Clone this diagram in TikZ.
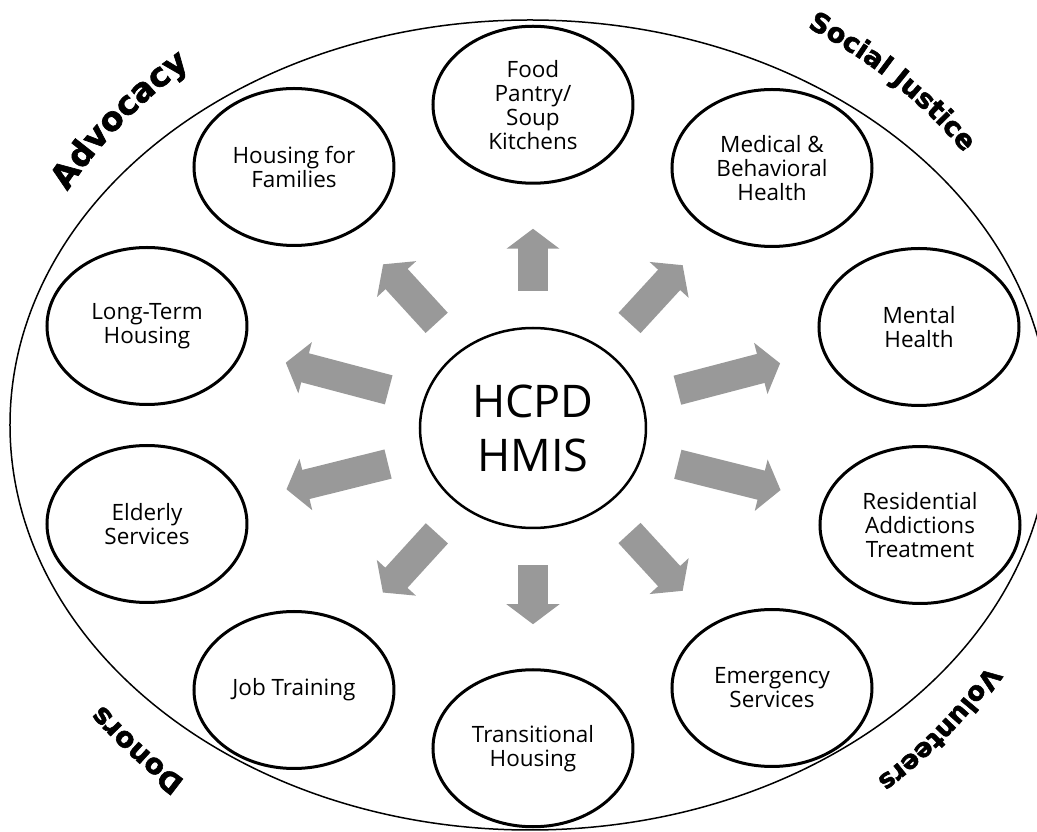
\documentclass[tikz,border=0pt]{standalone}
\usepackage{fontspec}
\setmainfont{Open Sans}
\newfontfamily\cornerfont{DejaVu Sans}[BoldFeatures={FakeBold=2}]
\usetikzlibrary{positioning,shapes.geometric,arrows.meta,decorations.text}

\tikzset{
  sat/.style={ellipse, draw, line width=3pt, minimum width=200pt, minimum height=157pt,
    inner sep=0pt, align=center, font=\fontsize{22.5}{24}\selectfont},
  hubnode/.style={ellipse, draw, line width=2.5pt, minimum width=226pt, minimum height=200pt,
    inner sep=0pt, align=center, font=\fontsize{45}{54}\selectfont},
  spoke/.style={line width=30pt, black!40, shorten <=36pt, shorten >=44pt,
    -{Triangle[width=52pt,length=20pt]}},
  corner/.style 2 args={decorate, decoration={text along path, text align=center,
    text={|\cornerfont\bfseries\fontsize{#1}{#1}\selectfont|#2}}}
}

\begin{document}
\begin{tikzpicture}[x=1pt,y=1pt]
\useasboundingbox (-533,-404) rectangle (504,428);
\draw[line width=1.5pt] (-3,3) ellipse [x radius=520pt, y radius=405pt];

\node(hub)  [hubnode] at (0,0) {HCPD\\HMIS};
\node(food) [sat, above=142pt of hub] {Food\\Pantry/\\Soup\\Kitchens};
\node(trans)[sat, below=139pt of hub] {Transitional\\Housing};
\node(fam)  [sat] at (-239,261) {Housing for\\Families};
\node(med)  [sat] at (239,260)  {Medical \&\\Behavioral\\Health};
\node(lt)   [sat] at (-386,102) {Long-Term\\Housing};
\node(ment) [sat] at (386,101)  {Mental\\Health};
\node(eld)  [sat] at (-386,-96) {Elderly\\Services};
\node(res)  [sat] at (387,-97)  {Residential\\Addictions\\Treatment};
\node(job)  [sat] at (-239,-262) {Job Training};
\node(emer) [sat] at (239,-260) {Emergency\\Services};

\draw[spoke] (hub) -- (food);
\draw[spoke] (hub) -- (med);
\draw[spoke] (hub) -- (ment);
\draw[spoke] (hub) -- (res);
\draw[spoke] (hub) -- (emer);
\draw[spoke] (hub) -- (trans);
\draw[spoke] (hub) -- (job);
\draw[spoke] (hub) -- (eld);
\draw[spoke] (hub) -- (lt);
\draw[spoke] (hub) -- (fam);

\path[corner={33}{Advocacy}] (-3,3) ++(160:535pt and 465pt)
  arc[start angle=160, end angle=120, x radius=535pt, y radius=465pt];
\path[corner={27}{Social Justice}] (-3,3) ++(67:535pt and 465pt)
  arc[start angle=67, end angle=27, x radius=535pt, y radius=465pt];
\path[corner={26}{Volunteers}] (-3,3) ++(-20:535pt and 465pt)
  arc[start angle=-20, end angle=-60, x radius=535pt, y radius=465pt];
\path[corner={28}{Donors}] (-3,3) ++(-117:535pt and 465pt)
  arc[start angle=-117, end angle=-157, x radius=535pt, y radius=465pt];
\end{tikzpicture}
\end{document}
